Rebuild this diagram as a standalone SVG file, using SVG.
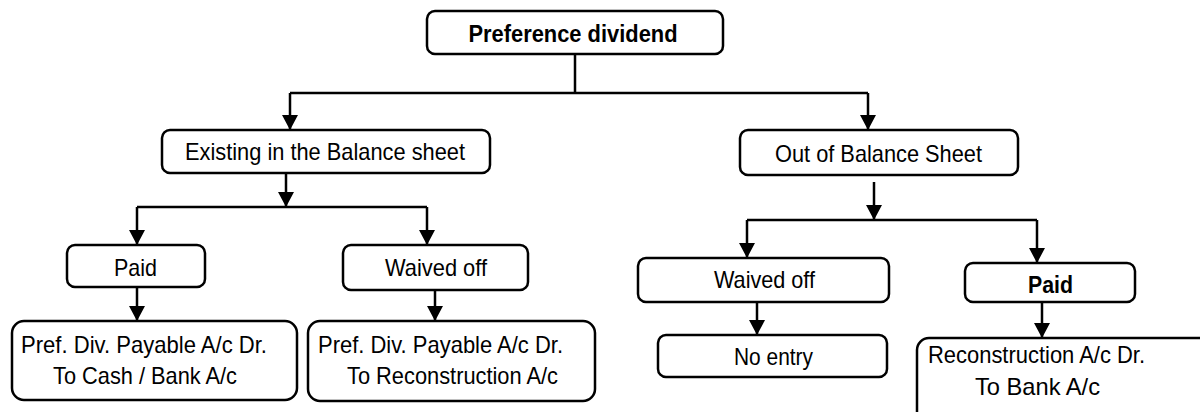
<svg xmlns="http://www.w3.org/2000/svg" width="1200" height="412" viewBox="0 0 1200 412">
  <defs>
    <marker id="arrow" viewBox="0 0 15 16" refX="15" refY="8" markerWidth="15" markerHeight="16" markerUnits="userSpaceOnUse" orient="auto">
      <path d="M0,0 L15,8 L0,16 Z" fill="#000"/>
    </marker>
    <style>
      .box { fill: #fff; stroke: #000; stroke-width: 2.5; }
      .wire { fill: none; stroke: #000; stroke-width: 2.5; }
      .lbl { font-family: "Liberation Sans", Arial, sans-serif; font-size: 24px; fill: #000; }
      .bold { font-weight: bold; }
      .mid { text-anchor: middle; }
    </style>
  </defs>
  <rect width="1200" height="412" fill="#fff"/>

  <!-- connectors -->
  <g id="connectors">
    <path class="wire" d="M575,54 V93 M290,93 H868"/>
    <path class="wire" d="M290,93 V130" marker-end="url(#arrow)"/>
    <path class="wire" d="M868,93 V130" marker-end="url(#arrow)"/>
    <path class="wire" d="M286,168 V207" marker-end="url(#arrow)"/>
    <path class="wire" d="M137,207 H427"/>
    <path class="wire" d="M137,207 V245" marker-end="url(#arrow)"/>
    <path class="wire" d="M427,207 V245" marker-end="url(#arrow)"/>
    <path class="wire" d="M137,287 V321" marker-end="url(#arrow)"/>
    <path class="wire" d="M435,290 V321" marker-end="url(#arrow)"/>
    <path class="wire" d="M874,182 V220" marker-end="url(#arrow)"/>
    <path class="wire" d="M747,220 H1037"/>
    <path class="wire" d="M747,220 V258" marker-end="url(#arrow)"/>
    <path class="wire" d="M1037,220 V263" marker-end="url(#arrow)"/>
    <path class="wire" d="M757,302 V335" marker-end="url(#arrow)"/>
    <path class="wire" d="M1042,302 V338" marker-end="url(#arrow)"/>
  </g>

  <g id="pref-dividend">
    <rect class="box" x="427" y="11" width="296" height="43" rx="8"/>
    <text class="lbl bold mid" x="573" y="42" font-size="24" textLength="209" lengthAdjust="spacingAndGlyphs">Preference dividend</text>
  </g>

  <g id="existing">
    <rect class="box" x="162" y="130" width="328" height="43" rx="8"/>
    <text class="lbl mid" x="325" y="160" textLength="280" lengthAdjust="spacingAndGlyphs">Existing in the Balance sheet</text>
  </g>

  <g id="out-of-bs">
    <rect class="box" x="740" y="130" width="278" height="45" rx="8"/>
    <text class="lbl mid" x="878.5" y="162" textLength="207" lengthAdjust="spacingAndGlyphs">Out of Balance Sheet</text>
  </g>

  <g id="paid-left">
    <rect class="box" x="67" y="245" width="138" height="42" rx="8"/>
    <text class="lbl mid" x="135.5" y="276" textLength="43" lengthAdjust="spacingAndGlyphs">Paid</text>
  </g>

  <g id="waived-left">
    <rect class="box" x="343" y="245" width="185" height="45" rx="8"/>
    <text class="lbl mid" x="436" y="276" textLength="102" lengthAdjust="spacingAndGlyphs">Waived off</text>
  </g>

  <g id="entry-cash">
    <rect class="box" x="12" y="321" width="285" height="79" rx="12"/>
    <text class="lbl" x="21" y="353" textLength="246" lengthAdjust="spacingAndGlyphs">Pref. Div. Payable A/c Dr.</text>
    <text class="lbl" x="53" y="384" textLength="184" lengthAdjust="spacingAndGlyphs">To Cash / Bank A/c</text>
  </g>

  <g id="entry-recon">
    <rect class="box" x="308" y="321" width="287" height="80" rx="12"/>
    <text class="lbl" x="318" y="353" textLength="245" lengthAdjust="spacingAndGlyphs">Pref. Div. Payable A/c Dr.</text>
    <text class="lbl" x="347" y="384" textLength="211" lengthAdjust="spacingAndGlyphs">To Reconstruction A/c</text>
  </g>

  <g id="waived-right">
    <rect class="box" x="638" y="258" width="251" height="44" rx="8"/>
    <text class="lbl mid" x="764.5" y="288" textLength="101" lengthAdjust="spacingAndGlyphs">Waived off</text>
  </g>

  <g id="no-entry">
    <rect class="box" x="658" y="335" width="229" height="42" rx="8"/>
    <text class="lbl mid" x="773.5" y="365" textLength="79" lengthAdjust="spacingAndGlyphs">No entry</text>
  </g>

  <g id="paid-right">
    <rect class="box" x="965" y="263" width="170" height="39" rx="8"/>
    <text class="lbl bold mid" x="1050.5" y="293" textLength="45" lengthAdjust="spacingAndGlyphs">Paid</text>
  </g>

  <g id="entry-bank">
    <rect class="box" x="917" y="338" width="300" height="90" rx="12"/>
    <text class="lbl" x="928" y="363" textLength="217" lengthAdjust="spacingAndGlyphs">Reconstruction A/c Dr.</text>
    <text class="lbl" x="975" y="395" textLength="125" lengthAdjust="spacingAndGlyphs">To Bank A/c</text>
  </g>
</svg>
